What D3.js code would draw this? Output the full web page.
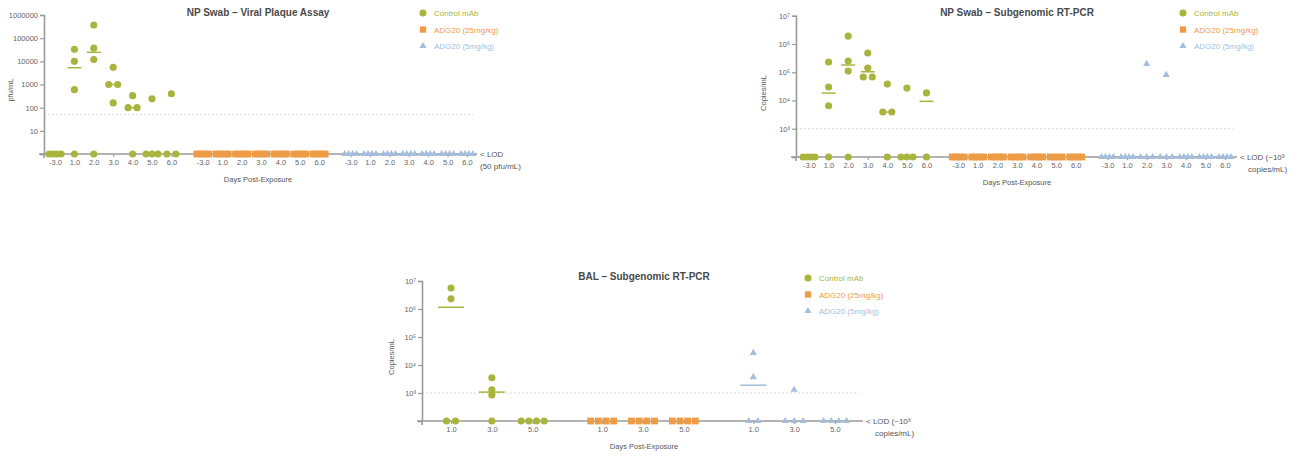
<!DOCTYPE html>
<html>
<head>
<meta charset="utf-8">
<script src="https://cdn.jsdelivr.net/npm/d3@7"></script>
<style>
body { margin: 0; background: #fff; }
svg { font-family: "Liberation Sans", Arial, sans-serif; }
</style>
</head>
<body>
<svg id="chart" width="1298" height="457"></svg>
<script>
// categories
var groupNames = ["Control mAb", "ADG20 (25mg/kg)", "ADG20 (5mg/kg)"];
var groupColors = ["#a9b43c", "#ee9b46", "#a3bedc"];
var daysSwab = ["-3.0", "1.0", "2.0", "3.0", "4.0", "5.0", "6.0"];
var daysBal = ["1.0", "3.0", "5.0"];

// NP swab, viral plaque assay (pfu/mL), null = below LOD
var plaqueControl = [[null, null, null, null], [33000, 10000, 600, null], [370000, 37000, 12000, null],
    [5500, 1000, 1000, 160], [330, 100, 100, null], [240, null, null, null], [400, null, null]];
var plaqueHigh = [[null, null, null, null], [null, null, null, null], [null, null, null, null],
    [null, null, null, null], [null, null, null, null], [null, null, null, null], [null, null, null, null]];
var plaqueLow = [[null, null, null, null], [null, null, null, null], [null, null, null, null],
    [null, null, null, null], [null, null, null, null], [null, null, null, null], [null, null, null, null]];

// NP swab, subgenomic RT-PCR (copies/mL)
var swabControl = [[null, null, null, null], [230000, 30000, 6500, null], [1900000, 250000, 110000, null],
    [480000, 140000, 68000, 68000], [38000, 3900, 3900, null], [27500, null, null, null], [18600, null]];
var swabHigh = [[null, null, null, null], [null, null, null, null], [null, null, null, null],
    [null, null, null, null], [null, null, null, null], [null, null, null, null], [null, null, null, null]];
var swabLow = [[null, null, null, null], [null, null, null, null], [195000, null, null, null],
    [80000, null, null, null], [null, null, null, null], [null, null, null, null], [null, null, null, null]];

// BAL, subgenomic RT-PCR (copies/mL)
var balControl = [[5600000, 2300000, null, null], [3500, 1300, 850, null], [null, null, null, null]];
var balHigh = [[null, null, null, null], [null, null, null, null], [null, null, null, null]];
var balLow = [[27000, 3700, null, null], [1300, null, null, null], [null, null, null, null]];

var plaqueTicks = [10, 100, 1000, 10000, 100000, 1000000];
var copiesTicks = [1e3, 1e4, 1e5, 1e6, 1e7];
var supers = {3: "\u00b3", 4: "\u2074", 5: "\u2075", 6: "\u2076", 7: "\u2077"};

var svg = d3.select("#chart");
var axisColor = "#9a9a9a";
var textColor = "#666";

function drawPanel(p) {
    var g = svg.append("g");
    var nDays = p.days.length;
    var x = d3.scaleLinear().domain([0, 2 * p.stride + nDays - 1]).range(p.xRange);
    var y = d3.scaleLog().domain(p.yDomain).range(p.yRange);
    var base = p.yDomain[0];
    var yb = p.yRange[0];

    // LOD dashed line
    g.append("line")
        .attr("x1", p.axisX).attr("x2", p.axisEnd - 4)
        .attr("y1", y(p.lod)).attr("y2", y(p.lod))
        .attr("stroke", "#d8d8d8").attr("stroke-width", 1).attr("stroke-dasharray", "2,2");

    // y axis
    var yAxis = d3.axisLeft(y).tickValues(p.yTicks.concat([base])).tickSizeOuter(0).tickSize(4)
        .tickFormat(function(d) { return d === base ? "" : p.tickFormat(d); });
    var ya = g.append("g").attr("transform", "translate(" + p.axisX + ",0)").call(yAxis);
    ya.select(".domain").attr("stroke", axisColor).attr("stroke-width", 1.6);
    ya.selectAll(".tick line").attr("stroke", axisColor).attr("stroke-width", 1.2);
    ya.selectAll(".tick text").attr("fill", textColor).attr("font-size", 7.5).attr("x", -6);
    g.append("line").attr("x1", p.axisX).attr("x2", p.axisX).attr("y1", yb).attr("y2", yb + 4)
        .attr("stroke", axisColor).attr("stroke-width", 1.6);

    // x axis
    var slots = [], labels = [];
    for (var gi = 0; gi < 3; gi++) {
        for (var di = 0; di < nDays; di++) {
            slots.push(gi * p.stride + di);
            labels.push(p.days[di]);
        }
    }
    var xAxis = d3.axisBottom(x).tickValues(slots).tickSize(3).tickSizeOuter(0)
        .tickFormat(function(d, i) { return labels[i]; });
    var xa = g.append("g").attr("transform", "translate(0," + yb + ")").call(xAxis);
    xa.select(".domain").remove();
    xa.selectAll(".tick line").attr("stroke", axisColor).attr("stroke-width", 1.2);
    xa.selectAll(".tick text").attr("fill", textColor).attr("font-size", 7.5).attr("y", 6);
    g.append("line").attr("x1", p.axisX - 5).attr("x2", p.axisEnd).attr("y1", yb).attr("y2", yb)
        .attr("stroke", axisColor).attr("stroke-width", 1.6);

    // points
    var series = [p.control, p.high, p.low];
    var shapes = [d3.symbolCircle, d3.symbolSquare, d3.symbolTriangle];
    var sizes = [40, 46, 22];
    series.forEach(function(s, gi) {
        s.forEach(function(vals, di) {
            var cx = x(gi * p.stride + di);
            var plotted = vals.map(function(v) { return v === null ? base : v; });
            // median line
            var med = d3.median(plotted);
            if (med > base * 1.01) {
                g.append("line")
                    .attr("x1", cx - p.medHalf).attr("x2", cx + p.medHalf)
                    .attr("y1", y(med)).attr("y2", y(med))
                    .attr("stroke", groupColors[gi]).attr("stroke-width", 1.5);
            }
            var bins = d3.group(plotted, function(v) { return v; });
            bins.forEach(function(list, v) {
                var n = list.length;
                var sp = n > 1 ? Math.min(9, p.maxSpan / (n - 1)) : 0;
                list.forEach(function(d, k) {
                    g.append("path")
                        .attr("d", d3.symbol().type(shapes[gi]).size(sizes[gi])())
                        .attr("transform", "translate(" + (cx + (k - (n - 1) / 2) * sp) + "," + y(v) + ")")
                        .attr("fill", groupColors[gi]);
                });
            });
        });
    });

    // LOD label
    g.append("text").attr("x", p.axisEnd + 3).attr("y", yb + 3).attr("font-size", 8)
        .attr("fill", "#555").text(p.lodText[0]);
    g.append("text").attr("x", p.axisEnd + 3 + p.lodIndent).attr("y", yb + 15).attr("font-size", 8)
        .attr("fill", "#555").text(p.lodText[1]);

    // titles
    g.append("text").attr("x", p.titleX).attr("y", p.titleY).attr("text-anchor", "middle")
        .attr("font-size", 10).attr("font-weight", "bold").attr("fill", "#4a4a4a").text(p.title);
    g.append("text").attr("x", p.titleX).attr("y", yb + 28).attr("text-anchor", "middle")
        .attr("font-size", 7.5).attr("fill", "#555").text("Days Post-Exposure");
    g.append("text").attr("transform", "translate(" + p.yLabelX + "," + p.yLabelY + ") rotate(-90)")
        .attr("text-anchor", "middle").attr("font-size", 7.5).attr("fill", "#555").text(p.yLabel);

    // legend
    groupNames.forEach(function(name, i) {
        var ly = p.legendY + i * 16.5;
        g.append("path")
            .attr("d", d3.symbol().type(shapes[i]).size(i === 2 ? 22 : 40)())
            .attr("transform", "translate(" + p.legendX + "," + ly + ")")
            .attr("fill", groupColors[i]);
        g.append("text").attr("x", p.legendX + 11).attr("y", ly + 3).attr("font-size", 8)
            .attr("fill", groupColors[i]).text(name);
    });
}

function copiesFormat(d) { return "10" + supers[Math.round(Math.log10(d))]; }

drawPanel({
    title: "NP Swab \u2013 Viral Plaque Assay", titleX: 258, titleY: 16,
    days: daysSwab, stride: 7.62, xRange: [55, 467], axisX: 44, axisEnd: 477,
    yDomain: [1, 1e6], yRange: [154, 15], yTicks: plaqueTicks, lod: 50,
    tickFormat: function(d) { return String(d); },
    control: plaqueControl, high: plaqueHigh, low: plaqueLow,
    maxSpan: 12, medHalf: 7,
    lodText: ["< LOD", "(50 pfu/mL)"], lodIndent: 0,
    yLabel: "pfu/mL", yLabelX: 13, yLabelY: 90,
    legendX: 423, legendY: 13
});

drawPanel({
    title: "NP Swab \u2013 Subgenomic RT-PCR", titleX: 1017, titleY: 16,
    days: daysSwab, stride: 7.62, xRange: [809, 1225], axisX: 796, axisEnd: 1237,
    yDomain: [100, 1e7], yRange: [157, 15.75], yTicks: copiesTicks, lod: 1000,
    tickFormat: copiesFormat,
    control: swabControl, high: swabHigh, low: swabLow,
    maxSpan: 12, medHalf: 7,
    lodText: ["< LOD (~10\u00b3", "copies/mL)"], lodIndent: 8,
    yLabel: "Copies/mL", yLabelX: 766, yLabelY: 93,
    legendX: 1183, legendY: 13
});

drawPanel({
    title: "BAL \u2013 Subgenomic RT-PCR", titleX: 644, titleY: 280,
    days: daysBal, stride: 3.7, xRange: [451, 835], axisX: 422, axisEnd: 863,
    yDomain: [100, 1e7], yRange: [421, 281], yTicks: copiesTicks, lod: 1000,
    tickFormat: copiesFormat,
    control: balControl, high: balHigh, low: balLow,
    maxSpan: 23, medHalf: 13,
    lodText: ["< LOD (~10\u00b3", "copies/mL)"], lodIndent: 9,
    yLabel: "Copies/mL", yLabelX: 394, yLabelY: 357,
    legendX: 808, legendY: 278
});
</script>
</body>
</html>
